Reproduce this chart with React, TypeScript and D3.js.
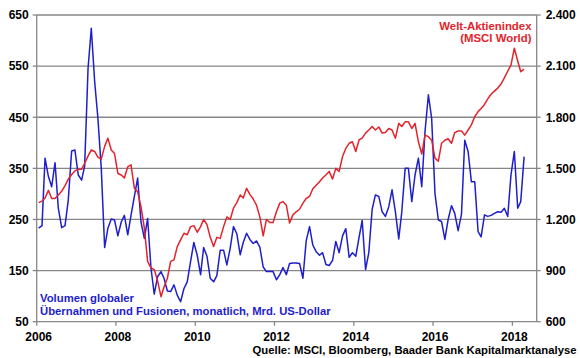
import React from 'react';
import * as d3 from 'd3';

// Monthly data, Jan 2006 – Apr 2018
const startYear = 2006;
const mergerVolume: number[] = [
  233, 238, 370, 334, 314, 361, 272, 234, 238, 288, 384, 386,
  337, 327, 355, 545, 624, 520, 448, 350, 195, 233, 251, 249,
  218, 245, 258, 220, 258, 295, 331, 245, 213, 252, 155, 104,
  138, 148, 135, 110, 109, 122, 102, 89, 115, 128, 168, 205,
  180, 142, 195, 178, 135, 128, 140, 190, 190, 161, 194, 236,
  222, 181, 205, 223, 211, 203, 208, 196, 157, 148, 148, 148,
  132, 142, 156, 142, 164, 165, 165, 164, 135, 208, 236, 200,
  187, 180, 185, 162, 160, 170, 207, 185, 218, 232, 176, 185,
  178, 216, 248, 152, 185, 270, 298, 295, 265, 256, 275, 308,
  265, 212, 265, 350, 350, 285, 337, 370, 314, 422, 494, 448,
  300, 249, 246, 211, 250, 277, 262, 228, 260, 405, 383, 324,
  324, 226, 216, 259, 256, 258, 262, 265, 264, 272, 256, 337,
  383, 272, 285, 373,
];
const msciWorld: number[] = [
  1299, 1308, 1326, 1371, 1323, 1323, 1344, 1365, 1398, 1437, 1464, 1485,
  1494, 1494, 1530, 1572, 1608, 1599, 1566, 1554, 1629, 1677, 1608, 1587,
  1470, 1461, 1443, 1509, 1521, 1383, 1362, 1275, 1149, 954, 915, 906,
  840, 747, 804, 855, 954, 963, 1041, 1080, 1119, 1110, 1158, 1164,
  1125, 1158, 1200, 1170, 1095, 1041, 1095, 1089, 1158, 1215, 1200, 1266,
  1299, 1344, 1326, 1383, 1347, 1320, 1284, 1215, 1104, 1200, 1182, 1182,
  1245, 1296, 1305, 1284, 1179, 1227, 1245, 1260, 1296, 1323, 1335, 1380,
  1401, 1422, 1443, 1461, 1482, 1437, 1500, 1482, 1569, 1617, 1647, 1656,
  1599, 1668, 1677, 1707, 1725, 1746, 1725, 1743, 1707, 1710, 1734, 1725,
  1677, 1764, 1746, 1773, 1773, 1734, 1764, 1656, 1584, 1695, 1686, 1665,
  1560, 1542, 1647, 1665, 1674, 1647, 1710, 1719, 1719, 1695, 1725, 1755,
  1803, 1833, 1851, 1875, 1908, 1935, 1953, 1971, 1995, 2031, 2070, 2106,
  2205, 2130, 2067, 2082,
];
const leftTicks = [50, 150, 250, 350, 450, 550, 650];
const rightTicks = [600, 900, 1200, 1500, 1800, 2100, 2400];
const yearTicks = [2006, 2008, 2010, 2012, 2014, 2016, 2018];
const redLabel = ['Welt-Aktienindex', '(MSCI World)'];
const blueLabel = ['Volumen globaler', 'Übernahmen und Fusionen, monatlich, Mrd. US-Dollar'];
const sourceLabel = 'Quelle: MSCI, Bloomberg, Baader Bank Kapitalmarktanalyse';

const BLUE = '#1e1ecc';
const RED = '#e3232b';
const GRID = '#878787';
const FONT = '"Liberation Sans", Arial, sans-serif';

const de = d3.formatLocale({ decimal: ',', thousands: '.', grouping: [3], currency: ['', ''] });
const fmtRight = de.format(',');

export default function App() {
  const W = 580, H = 358;
  const left = 36.7, right = 536.7, top = 15, bottom = 321.7;
  const x = d3.scaleTime()
    .domain([new Date(2006, 0, 1), new Date(2018, 7, 13)])
    .range([left, right]);
  const yL = d3.scaleLinear().domain([50, 650]).range([bottom, top]);
  const yR = d3.scaleLinear().domain([600, 2400]).range([bottom, top]);
  const dateOf = (i: number) => new Date(startYear, i, 19);

  const blueLine = d3.line<number>().x((_, i) => x(dateOf(i))).y(d => yL(d));
  const redLine = d3.line<number>().x((_, i) => x(dateOf(i))).y(d => yR(d));

  const textStyle = { fontFamily: FONT, fontWeight: 700 as const };

  return (
    <svg width={W} height={H} style={{ position: 'absolute', left: 0, top: 0, background: '#fff' }}>
      <rect width={W} height={H} fill="#fff" />
      {leftTicks.map(t => (
        <line key={'g' + t} x1={left} x2={right} y1={yL(t)} y2={yL(t)} stroke={GRID} strokeWidth={1.3} />
      ))}
      <line x1={left} x2={left} y1={top} y2={bottom} stroke={GRID} strokeWidth={1.3} />
      <line x1={right} x2={right} y1={top} y2={bottom} stroke={GRID} strokeWidth={1.3} />
      {leftTicks.map(t => (
        <g key={'l' + t}>
          <line x1={left - 4} x2={left} y1={yL(t)} y2={yL(t)} stroke={GRID} strokeWidth={1.3} />
          <text x={left - 8} y={yL(t)} dy="0.36em" textAnchor="end" fontSize={12} {...textStyle} fill="#000">{t}</text>
        </g>
      ))}
      {rightTicks.map(t => (
        <g key={'r' + t}>
          <line x1={right} x2={right + 4} y1={yR(t)} y2={yR(t)} stroke={GRID} strokeWidth={1.3} />
          <text x={right + 9} y={yR(t)} dy="0.36em" textAnchor="start" fontSize={12} {...textStyle} fill="#000">{fmtRight(t)}</text>
        </g>
      ))}
      {yearTicks.map(yr => {
        const xp = x(new Date(yr, 0, 1));
        return (
          <g key={'x' + yr}>
            <line x1={xp} x2={xp} y1={bottom} y2={bottom + 4} stroke={GRID} strokeWidth={1.3} />
            <text x={xp + 2} y={340.5} textAnchor="middle" fontSize={12} {...textStyle} fill="#000">{yr}</text>
          </g>
        );
      })}
      <path d={blueLine(mergerVolume) || ''} fill="none" stroke={BLUE} strokeWidth={1.5} strokeLinejoin="round" />
      <path d={redLine(msciWorld) || ''} fill="none" stroke={RED} strokeWidth={1.5} strokeLinejoin="round" />
      {redLabel.map((s, i) => (
        <text key={'rl' + i} x={531.5} y={29.5 + i * 12.5} textAnchor="end" fontSize={11.4} {...textStyle} fill={RED}>{s}</text>
      ))}
      {blueLabel.map((s, i) => (
        <text key={'bl' + i} x={40} y={302 + i * 13} textAnchor="start" fontSize={11.3} {...textStyle} fill={BLUE}>{s}</text>
      ))}
      <text x={576.5} y={354} textAnchor="end" fontSize={11.3} {...textStyle} fill="#000">{sourceLabel}</text>
    </svg>
  );
}
